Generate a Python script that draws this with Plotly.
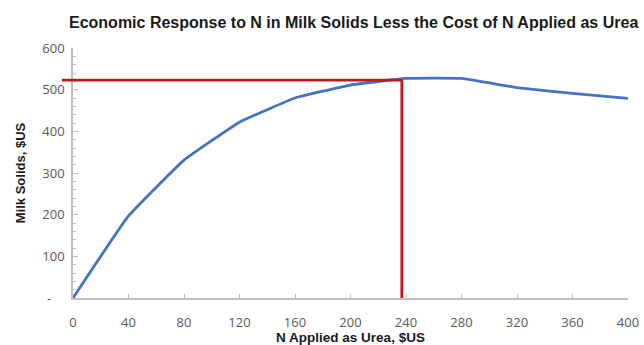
import plotly.graph_objects as go

# N applied as urea ($US) and the resulting milk-solids return net of N cost ($US)
n_applied = [0, 40, 80, 120, 160, 200, 240, 280, 320, 360, 400]
milk_solids = [0, 197, 331, 422, 480, 511, 527, 527, 505, 491, 479]

# economic optimum marked with the red guide lines
opt_n = 237
opt_return = 523

x_ticks = [0, 40, 80, 120, 160, 200, 240, 280, 320, 360, 400]
y_ticks = [0, 100, 200, 300, 400, 500, 600]
y_tick_text = ["-\u00a0\u00a0\u00a0\u00a0", "100", "200", "300", "400", "500", "600"]

X_MAX = 400
Y_MAX = 600

blue = "#4472C4"
red = "#C0171D"
axis_gray = "#BFBFBF"
label_gray = "#595959"
bold_family = "Liberation Sans Narrow, Arial Narrow, Liberation Sans, Arial"
tick_font = dict(family="Open Sans, Liberation Sans, Arial", size=13, color=label_gray)

fig = go.Figure()
fig.add_trace(go.Scatter(
    x=n_applied, y=milk_solids, mode="lines",
    line=dict(color=blue, width=2.8, shape="spline", smoothing=0.3),
    hoverinfo="x+y", showlegend=False,
))

# horizontal guide runs slightly left past the y axis, so use domain units for x
fig.add_shape(type="line", xref="x domain", yref="y",
              x0=-0.02, x1=opt_n / X_MAX, y0=opt_return, y1=opt_return,
              line=dict(color=red, width=2.8))
fig.add_shape(type="line", xref="x", yref="y",
              x0=opt_n, x1=opt_n, y0=0, y1=opt_return,
              line=dict(color=red, width=2.8))

fig.update_layout(
    width=644, height=345,
    margin=dict(l=73, r=16, t=48, b=47, autoexpand=False),
    paper_bgcolor="white", plot_bgcolor="white",
    title=dict(
        text="<b>Economic Response to N in Milk Solids Less the Cost of N Applied as Urea</b>",
        font=dict(family=bold_family, size=16, color="#1a1a1a"),
        x=69 / 644, xanchor="left", y=0.936, yanchor="middle",
    ),
    xaxis=dict(
        range=[0, X_MAX], tickvals=x_ticks, ticks="inside", ticklen=4,
        tickcolor=axis_gray, showline=True, linecolor=axis_gray, linewidth=1.5,
        showgrid=False, zeroline=False, tickfont=tick_font, ticklabelstandoff=12,
        automargin=False,
        title=dict(text="<b>N Applied as Urea, $US</b>",
                   font=dict(family=bold_family, size=13.5, color="#1a1a1a"), standoff=4),
    ),
    yaxis=dict(
        range=[0, Y_MAX], tickvals=y_ticks, ticktext=y_tick_text,
        ticks="inside", ticklen=5, tickcolor=axis_gray,
        minor=dict(dtick=20, ticks="inside", ticklen=3, tickcolor=axis_gray),
        showline=True, linecolor=axis_gray, linewidth=1.5,
        showgrid=False, zeroline=False, tickfont=tick_font, ticklabelstandoff=4,
        automargin=False,
        title=dict(text="<b>Milk Solids, $US</b>",
                   font=dict(family=bold_family, size=13, color="#1a1a1a"), standoff=14),
    ),
)

fig.write_html("out.html")
